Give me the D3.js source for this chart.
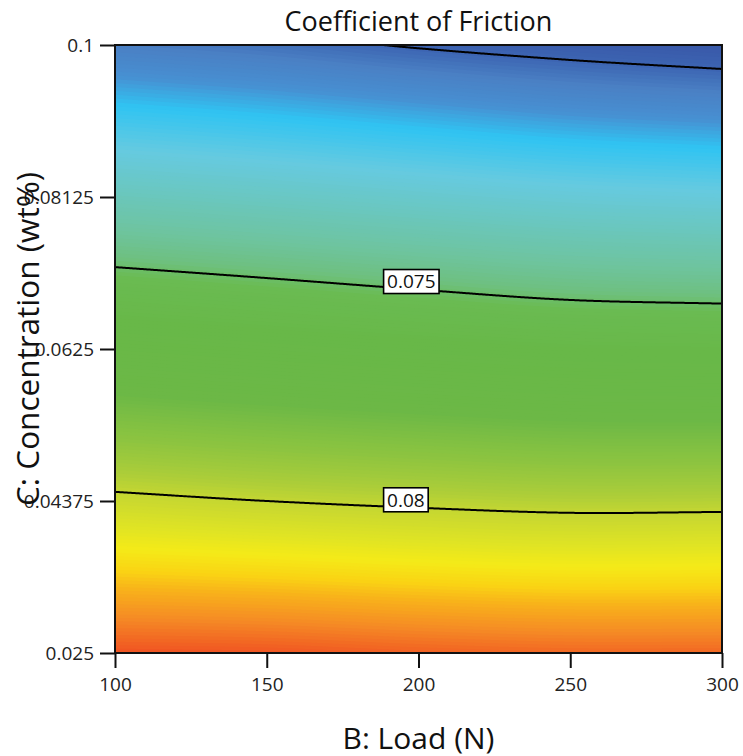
<!DOCTYPE html>
<html><head><meta charset="utf-8">
<script src="https://cdn.jsdelivr.net/npm/d3@7"></script>
<style>body{margin:0;background:#fff} svg{display:block} text{font-family:"Open Sans","Noto Sans",sans-serif}</style>
</head><body>
<svg id="chart" width="743" height="756"></svg>
<script>
// ---- data ----
const loads = [100, 150, 200, 250, 300];
const concentrations = [0.025, 0.03125, 0.0375, 0.04375, 0.05, 0.05625, 0.0625, 0.06875, 0.075, 0.08125, 0.0875, 0.09375, 0.1];
// coefficient of friction: one row per concentration (bottom -> top), one column per load
const cof = [
  [0.083700, 0.083650, 0.083500, 0.083400, 0.083400],
  [0.082535, 0.082432, 0.082276, 0.082169, 0.082177],
  [0.081372, 0.081217, 0.081055, 0.080940, 0.080957],
  [0.080207, 0.080000, 0.079840, 0.079717, 0.079736],
  [0.079069, 0.078858, 0.078677, 0.078527, 0.078517],
  [0.077940, 0.077718, 0.077516, 0.077340, 0.077301],
  [0.076808, 0.076576, 0.076353, 0.076150, 0.076082],
  [0.075676, 0.075435, 0.075190, 0.074964, 0.074880],
  [0.074589, 0.074365, 0.074130, 0.073910, 0.073803],
  [0.073558, 0.073334, 0.073087, 0.072854, 0.072724],
  [0.072527, 0.072303, 0.072044, 0.071798, 0.071645],
  [0.071498, 0.071275, 0.071002, 0.070744, 0.070568],
  [0.070468, 0.070244, 0.069930, 0.069688, 0.069489]
];
const contourLevels = [0.07, 0.075, 0.08];
const labeledLevels = ["0.075", "0.08"];
const xTickValues = [100, 150, 200, 250, 300];
const xTickLabels = ["100", "150", "200", "250", "300"];
const yTickValues = [0.025, 0.04375, 0.0625, 0.08125, 0.1];
const yTickLabels = ["0.025", "0.04375", "0.0625", "0.08125", "0.1"];
const titleText = "Coefficient of Friction";
const xTitle = "B: Load (N)";
const yTitle = "C: Concentration (wt%)";
// colour ramp (value -> colour)
const colorStops = [0.0694, 0.0700, 0.0705, 0.0711, 0.0717, 0.0726, 0.0742, 0.0748, 0.0752, 0.0762, 0.0778, 0.0788, 0.0795, 0.0800, 0.0808, 0.0813, 0.0818, 0.0822, 0.0829, 0.0837];
const colorRange = ["#3856a6", "#3c64b2", "#4a80c4", "#4790d2", "#30c4f2", "#66cae0", "#6ec4a0", "#6ec080", "#6abb52", "#68b848", "#6cb846", "#8cc440", "#a8cc3a", "#c4d632", "#e0e424", "#f4ea18", "#fad414", "#f8b41a", "#f58a25", "#f05222"];

// ---- layout ----
const svg = d3.select("#chart");
const L = 115, R = 722, T = 45, B = 653;
const x = d3.scaleLinear().domain([100, 300]).range([L, R]);
const y = d3.scaleLinear().domain([0.025, 0.1]).range([B, T]);
const color = d3.scaleLinear().domain(colorStops).range(colorRange).clamp(true);

// smooth (Catmull-Rom) interpolation of the read grid
function cr(p0, p1, p2, p3, t) {
  return 0.5 * ((2 * p1) + (-p0 + p2) * t + (2 * p0 - 5 * p1 + 4 * p2 - p3) * t * t + (-p0 + 3 * p1 - 3 * p2 + p3) * t * t * t);
}
const nI = loads.length, nJ = concentrations.length;
function g(j, i) {
  if (i < 0) return 2 * g(j, 0) - g(j, 1);
  if (i >= nI) return 2 * g(j, nI - 1) - g(j, nI - 2);
  if (j < 0) return 2 * g(0, i) - g(1, i);
  if (j >= nJ) return 2 * g(nJ - 1, i) - g(nJ - 2, i);
  return cof[j][i];
}
function surface(b, c) {
  const fi = (b - loads[0]) / (loads[1] - loads[0]);
  const fj = (c - concentrations[0]) / (concentrations[1] - concentrations[0]);
  const i1 = Math.max(0, Math.min(nI - 2, Math.floor(fi)));
  const j1 = Math.max(0, Math.min(nJ - 2, Math.floor(fj)));
  const tx = fi - i1, ty = fj - j1;
  const r = [-1, 0, 1, 2].map(d => cr(g(j1 + d, i1 - 1), g(j1 + d, i1), g(j1 + d, i1 + 1), g(j1 + d, i1 + 2), tx));
  return cr(r[0], r[1], r[2], r[3], ty);
}

// ---- filled surface ----
const n = 304, m = 304;
const pw = (R - L) / n, ph = (B - T) / m;
const values = new Float64Array(n * m);
for (let j = 0; j < m; j++) for (let i = 0; i < n; i++) {
  values[j * n + i] = surface(x.invert(L + (i + 0.5) * pw), y.invert(T + (j + 0.5) * ph));
}
const ext = d3.extent(values);
const NB = 180;
const step = (ext[1] - ext[0]) / NB;
const thresholds = d3.range(NB).map(k => ext[0] + k * step);
const bands = d3.contours().size([n, m]).thresholds(thresholds)(values);
const proj = d3.geoTransform({ point(px, py) { this.stream.point(L + px * pw, T + py * ph); } });
const path = d3.geoPath(proj);
svg.append("clipPath").attr("id", "plotclip").append("rect").attr("x", L).attr("y", T).attr("width", R - L).attr("height", B - T);
const gFill = svg.append("g").attr("clip-path", "url(#plotclip)");
gFill.append("rect").attr("x", L).attr("y", T).attr("width", R - L).attr("height", B - T).attr("fill", color(ext[0]));
gFill.selectAll("path").data(bands).join("path")
  .attr("d", path).attr("fill", d => color(d.value + step / 2)).attr("stroke", "none");

// ---- contour lines ----
function crossC(b, t) {
  let lo = 0.025, hi = 0.1;
  if (surface(b, hi) > t || surface(b, lo) < t) return null;
  for (let k = 0; k < 40; k++) { const mid = (lo + hi) / 2; if (surface(b, mid) > t) lo = mid; else hi = mid; }
  return (lo + hi) / 2;
}
const gLines = svg.append("g").attr("clip-path", "url(#plotclip)");
const line = d3.line().defined(d => d.c !== null).x(d => x(d.b)).y(d => y(d.c)).curve(d3.curveLinear);
contourLevels.forEach(t => {
  const pts = d3.range(L, R + 0.5, 1).map(px => { const b = x.invert(px); return { b, c: crossC(b, t) }; });
  gLines.append("path").attr("d", line(pts)).attr("fill", "none").attr("stroke", "#000").attr("stroke-width", 2);
});

// ---- contour labels ----
const labelLoad = 188.5;
labeledLevels.forEach(lbl => {
  const t = +lbl;
  const gl = svg.append("g");
  const txt = gl.append("text").text(lbl).style("font-size", "19px").attr("fill", "#111").attr("text-anchor", "middle");
  const tw = txt.node().getComputedTextLength();
  const bw = tw + 7, bh = 24;
  const cx = x(labelLoad) + bw / 2;
  const ly = y(crossC(x.invert(cx), t));
  const cy = ly - 7.5;
  gl.insert("rect", "text").attr("x", cx - bw / 2).attr("y", cy - bh / 2).attr("width", bw).attr("height", bh)
    .attr("fill", "#fff").attr("stroke", "#000").attr("stroke-width", 1.6);
  txt.attr("x", cx).attr("y", cy).attr("dy", "0.36em");
});

// ---- frame and axes ----
svg.append("rect").attr("x", L).attr("y", T).attr("width", R - L).attr("height", B - T)
  .attr("fill", "none").attr("stroke", "#111").attr("stroke-width", 2);
const xAxis = d3.axisBottom(x).tickValues(xTickValues).tickFormat((d, i) => xTickLabels[i]).tickSize(15).tickPadding(10);
const yAxis = d3.axisLeft(y).tickValues(yTickValues).tickFormat((d, i) => yTickLabels[i]).tickSize(15).tickPadding(6);
const gx = svg.append("g").attr("transform", `translate(0,${B})`).call(xAxis);
const gy = svg.append("g").attr("transform", `translate(${L},0)`).call(yAxis);
[gx, gy].forEach(ax => {
  ax.select(".domain").remove();
  ax.selectAll(".tick line").attr("stroke", "#111").attr("stroke-width", 2);
  ax.selectAll(".tick text").style("font-size", "19px").attr("fill", "#222").style("font-family", '"Open Sans","Noto Sans",sans-serif');
});

// ---- titles ----
svg.append("text").attr("x", (L + R) / 2).attr("y", 22).attr("dy", "0.35em").attr("text-anchor", "middle")
  .attr("font-size", 27).attr("fill", "#111").text(titleText);
svg.append("text").attr("x", (L + R) / 2).attr("y", 738).attr("dy", "0.35em").attr("text-anchor", "middle")
  .attr("font-size", 30).attr("fill", "#111").text(xTitle);
svg.append("text").attr("transform", `translate(28,339) rotate(-90)`).attr("dy", "0.35em").attr("text-anchor", "middle")
  .attr("font-size", 31.5).attr("fill", "#111").text(yTitle);
</script>
</body></html>
